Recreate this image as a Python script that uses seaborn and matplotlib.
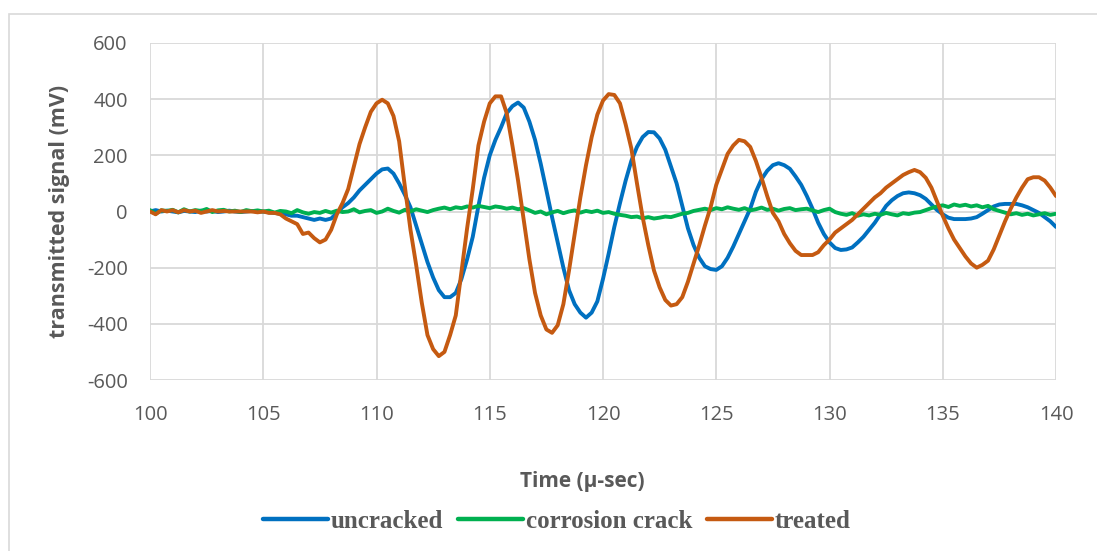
import numpy as np
import pandas as pd
import matplotlib
matplotlib.use("Agg")
import matplotlib.pyplot as plt
from matplotlib.patches import Rectangle
import seaborn as sns

# ---- data ----
time_us = np.linspace(100, 140, 161)

uncracked = [
    0, 5, 0, 3, 0, -3, 2, 0, -2, 3, 0, 2, -2, 0, 3, 0, -2, 0, 2, 0, 0,
    -3, -5, -8, -10, -15, -15, -20, -25, -30, -25, -30, -25, -5, 15, 30, 50, 75, 95, 115, 135,
    150, 153, 135, 100, 60, 15, -50, -115, -180, -235, -280, -305, -305, -290, -240, -170, -90, 20, 120, 200,
    255, 300, 350, 375, 388, 370, 320, 255, 170, 76, -20, -110, -200, -280, -330, -360, -378, -360, -320, -240,
    -150, -55, 30, 110, 180, 230, 265, 283, 282, 260, 220, 160, 100, 20, -60, -120, -165, -195, -205, -208,
    -195, -165, -125, -80, -35, 10, 70, 115, 145, 165, 172, 165, 152, 125, 95, 55, 10, -40, -80, -110,
    -130, -137, -135, -128, -110, -90, -65, -40, -10, 20, 40, 55, 65, 68, 65, 58, 45, 25, 5, -10,
    -22, -27, -27, -27, -25, -20, -8, 5, 18, 25, 27, 27, 27, 22, 15, 5, -5, -20, -35, -55,
]

corrosion_crack = [
    5, -8, 4, 2, 6, -3, 8, 0, 5, 2, 9, -2, 4, 6, 0, 3, -2, 5, 1, 4, 0,
    3, -4, 2, 0, -6, 5, -3, -8, -2, -5, 2, -4, 3, -2, 0, 8, -3, 2, 5, -5,
    0, 10, 2, -4, 6, 0, 8, 3, -2, 5, 10, 14, 8, 15, 12, 18, 14, 20, 16, 12,
    18, 15, 10, 14, 8, 12, 4, -5, 0, -10, -3, 2, -6, 0, 4, -4, 2, -2, 3, -5,
    -2, -8, -12, -15, -20, -18, -24, -20, -25, -22, -18, -20, -14, -8, -5, 2, 6, 10, 5, 12,
    8, 15, 10, 6, 12, 4, 8, 14, 6, 10, 3, 9, 12, 5, 8, 10, 4, -2, 5, 10,
    -2, -8, -12, -6, -15, -10, -14, -8, -12, -5, -10, -14, -6, -9, -4, -2, 5, 12, 18, 22,
    16, 25, 20, 24, 18, 22, 15, 20, 8, 2, -4, -10, -6, -12, -8, -14, -10, -6, -12, -8,
]

treated = [
    0, -10, 5, 0, 5, -3, 5, 0, 3, -5, 0, 5, 0, 2, 0, 0, 0, 0, 0, -3, 0,
    -5, -5, -10, -25, -35, -45, -80, -75, -95, -110, -100, -65, -10, 30, 80, 160, 240, 300, 355, 385,
    398, 385, 340, 250, 90, -65, -190, -325, -440, -490, -515, -500, -440, -370, -215, -60, 80, 235, 320, 385,
    410, 410, 350, 235, 110, -30, -170, -290, -370, -420, -432, -405, -330, -210, -80, 50, 165, 265, 345, 395,
    418, 415, 385, 310, 225, 100, -20, -120, -210, -270, -315, -335, -330, -305, -250, -185, -120, -50, 15, 95,
    150, 205, 235, 255, 250, 230, 180, 120, 55, -5, -35, -80, -113, -140, -155, -155, -155, -145, -120, -100,
    -75, -60, -45, -30, -10, 10, 30, 50, 65, 85, 100, 115, 130, 140, 148, 140, 120, 85, 35, -15,
    -60, -100, -130, -160, -185, -200, -190, -175, -135, -85, -35, 10, 50, 85, 115, 122, 122, 110, 85, 55,
]

series_names = ["uncracked", "corrosion crack", "treated"]
series_colors = ["#0070C0", "#00B050", "#C55A11"]
x_ticks = [100, 105, 110, 115, 120, 125, 130, 135, 140]
y_ticks = [-600, -400, -200, 0, 200, 400, 600]

df = pd.DataFrame({
    "time": np.concatenate([time_us, time_us, time_us]),
    "signal": np.concatenate([uncracked, corrosion_crack, treated]),
    "series": np.repeat(series_names, len(time_us)),
})

# ---- style ----
sns.set_theme(style="white")
plt.rcParams["font.family"] = ["Open Sans", "DejaVu Sans"]
plt.rcParams["axes.unicode_minus"] = False
txt_color = "#595959"
grid_color = "#D9D9D9"

W, H = 1097, 551
fig = plt.figure(figsize=(W / 100, H / 100), dpi=100)
ax = fig.add_axes([150 / W, 1 - 380 / H, (1056 - 150) / W, (380 - 43) / H])

sns.lineplot(data=df, x="time", y="signal", hue="series", hue_order=series_names,
             palette=dict(zip(series_names, series_colors)), linewidth=2.8,
             ax=ax, legend=True, estimator=None, sort=False)

handles, labels = ax.get_legend_handles_labels()
ax.get_legend().remove()

ax.set_xlim(100, 140)
ax.set_ylim(-600, 600)
ax.set_xticks(x_ticks)
ax.set_yticks(y_ticks)
ax.grid(True, color=grid_color, linewidth=1.3)
ax.set_axisbelow(True)
for s in ax.spines.values():
    s.set_visible(False)
ax.tick_params(axis="both", length=0, labelsize=14.5, colors=txt_color)
ax.tick_params(axis="x", pad=18)
ax.tick_params(axis="y", pad=16)
ax.set_xlabel("")
ax.set_ylabel("transmitted signal (mV)", fontsize=15.5, fontweight="bold",
              color=txt_color, labelpad=12)

fig.text(582 / W, 1 - 481 / H, "Time (µ-sec)", ha="center", va="center",
         fontsize=15, fontweight="bold", color=txt_color)

for h in handles:
    h.set_linewidth(3.2)
leg = fig.legend(handles, labels, loc="center", bbox_to_anchor=(557 / W, 1 - 521 / H),
                 ncol=3, frameon=False, handlelength=2.6, handletextpad=0.1,
                 columnspacing=0.6,
                 prop={"family": ["Liberation Serif"], "weight": "bold", "size": 18})
for t in leg.get_texts():
    t.set_color(txt_color)

fig.add_artist(Rectangle((9 / W, -0.1), 1.2, 1 - 14 / H + 0.1, transform=fig.transFigure,
                         fill=False, edgecolor=grid_color, linewidth=1.2))

fig.savefig("out.png", dpi=100, facecolor="white")
